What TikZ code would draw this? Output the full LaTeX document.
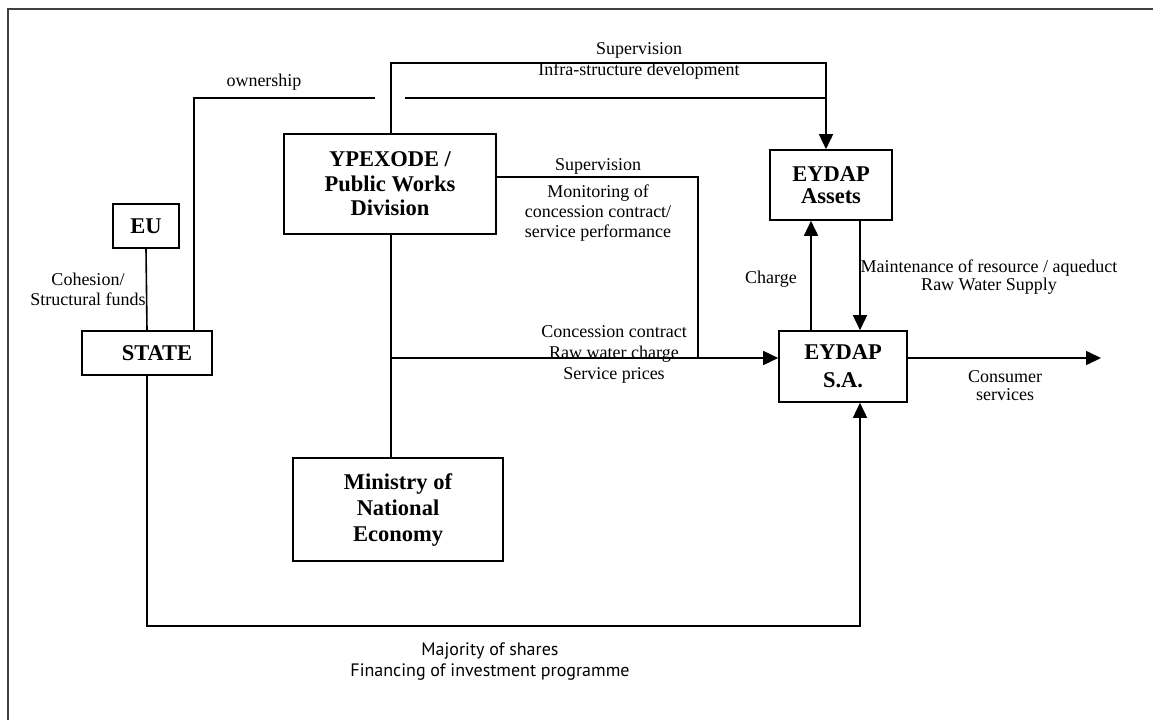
\documentclass[tikz,border=0pt]{standalone}
\usepackage{fontspec}
\setmainfont{Liberation Serif}
\newfontfamily\labsans{PT Sans}
\usetikzlibrary{arrows.meta}
\begin{document}
\begin{tikzpicture}[x=1pt,y=-1pt,
  box/.style={draw, line width=1.6pt, align=center, inner sep=0pt,
    font=\bfseries\fontsize{22.5}{24.5}\selectfont},
  lab/.style={align=center, inner sep=0pt, font=\fontsize{18}{20}\selectfont},
  conn/.style={line width=1.6pt},
  arr/.style={conn, -{Triangle[length=15pt,width=14pt]}}]
\useasboundingbox (0,0) rectangle (1153,720);
% frame
\coordinate (fr1) at (1153,9);
\coordinate (fr2) at (8,9);
\coordinate (fr3) at (8,720);
\draw[line width=2pt, black!75] (fr1) -- (fr2) -- (fr3);

% boxes
\node[box, minimum width=212pt, minimum height=100pt] (YP) at (390,184) {YPEXODE /\\Public Works\\Division};
\node[box, minimum width=66pt, minimum height=44pt] (EU) at (146,226) {EU};
\node[box, minimum width=130pt, minimum height=44pt] (ST) at (147,353) {\hspace*{20pt}STATE};
\node[box, minimum width=210pt, minimum height=103pt, font=\bfseries\fontsize{22.5}{26}\selectfont] (MIN) at (398,509.5) {Ministry of\\National\\Economy};
\node[box, minimum width=122pt, minimum height=70pt, font=\bfseries\fontsize{22.5}{22.5}\selectfont] (AS) at (831,185) {EYDAP\\Assets};
\node[box, minimum width=128pt, minimum height=71pt, font=\bfseries\fontsize{22.5}{28}\selectfont] (SA) at (843,366.5) {EYDAP\\S.A.};

% helper coordinates
\coordinate (o1) at (194,98);
\coordinate (o2) at (375,98);
\coordinate (o3) at (405,98);
\coordinate (c1) at (826,98);
\coordinate (t1) at (391,63);
\coordinate (t2) at (826,63);
\coordinate (s1) at (698,177);
\coordinate (k1) at (391,358);
\coordinate (cons) at (1101,358);
\coordinate (ch) at (811,0);
\coordinate (mt) at (860,0);
\coordinate (b1) at (147,626);
\coordinate (b2) at (860,626);

% connectors
\draw[conn] (EU.south) -- (ST.north);
\draw[conn] (o1 |- ST.north) -- (o1) -- (o2);
\draw[arr] (o3) -- (c1) -- (c1 |- AS.north);
\draw[conn] (t1 |- YP.north) -- (t1) -- (t2) -- (c1);
\draw[conn] (YP.east |- s1) -- (s1) -- (s1 |- k1);
\draw[conn] (t1 |- YP.south) -- (t1 |- MIN.north);
\draw[arr] (k1) -- (k1 -| SA.west);
\draw[arr] (SA.east |- k1) -- (cons);
\draw[arr] (ch |- SA.north) -- (ch |- AS.south);
\draw[arr] (mt |- AS.south) -- (mt |- SA.north);
\draw[arr] (ST.south) -- (b1) -- (b2) -- (b2 |- SA.south);

% labels
\node[lab] (lown) at (264,82) {ownership};
\node[lab] (lsup1) at (639,50) {Supervision};
\node[lab] (linfra) at (639,71) {Infra-structure development};
\node[lab] (lsup2) at (598,166) {Supervision};
\node[lab] (lmon) at (598,213) {Monitoring of\\concession contract/\\service performance};
\node[lab, font=\fontsize{18}{21}\selectfont] (lconc) at (614,354) {Concession contract\\Raw water charge\\Service prices};
\node[lab] (lch) at (771,279) {Charge};
\node[lab, font=\fontsize{18}{18}\selectfont] (lmaint) at (989,277) {Maintenance of resource / aqueduct\\Raw Water Supply};
\node[lab, font=\fontsize{18}{18}\selectfont] (lcons) at (1005,386) {Consumer\\services};
\node[lab] (lcoh) at (88,289) {Cohesion/\\Structural funds};
\node[lab, font=\labsans\fontsize{18}{21}\selectfont] (lmaj) at (490,662) {Majority of shares\\Financing of investment programme};
\end{tikzpicture}
\end{document}
